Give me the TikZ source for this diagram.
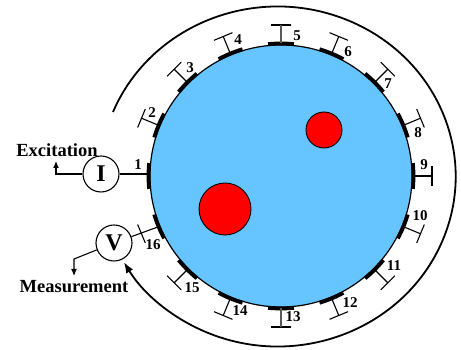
\documentclass[tikz,border=0pt]{standalone}
\usepackage{fontspec}
\setmainfont{Liberation Serif}
\usetikzlibrary{arrows.meta,calc}
\definecolor{phantom}{HTML}{66C5FF}
\tikzset{
  meter/.style={circle,draw,line width=1.1pt,fill=white,minimum size=36pt,inner sep=0pt,font=\bfseries\fontsize{24}{24}\selectfont},
  inclusion/.style={circle,draw=black,line width=0.9pt,fill=red,inner sep=0pt},
  pad/.style={line width=3.8pt},
  wire/.style={line width=1.1pt},
  num/.style={inner sep=0pt,font=\bfseries\fontsize{15}{15}\selectfont},
  caption/.style={inner sep=0pt,font=\bfseries\fontsize{18.5}{19}\selectfont},
  tip/.style={-{Latex[length=7pt,width=6pt]}},
}
\begin{document}
\begin{tikzpicture}[x=1pt,y=-1pt,yshift=350pt]
\useasboundingbox (0,0) rectangle (461,350);
\coordinate (c) at (281,176);
\node[circle,draw=black,line width=1.2pt,fill=phantom,minimum size=262pt,inner sep=0pt] (body) at (c) {};
\node[inclusion,minimum size=36pt] (small) at (324,130) {};
\node[inclusion,minimum size=52pt] (big) at (225,209) {};
% outer arc
\coordinate (arcstart) at (113,112);
\draw[line width=1.8pt,-{Latex[length=11pt,width=8pt]}] (arcstart) arc[start angle=202.3,end angle=509.8,x radius=178,y radius=170];
% electrodes
\foreach \k in {1,...,16}{
  \pgfmathsetmacro{\ang}{180+(\k-1)*22.5}
  \pgfmathsetmacro{\sa}{\ang-5.6}
  \pgfmathsetmacro{\ea}{\ang+5.6}
  \coordinate (e\k) at ($(c)+(\ang:132.5)$);
  \coordinate (w\k) at ($(c)+(\ang:151)$);
  \coordinate (ta\k) at ($(w\k)+(\ang+90:10)$);
  \coordinate (tb\k) at ($(w\k)+(\ang-90:10)$);
  \draw[pad] ($(c)+(\sa:132.5)$) arc[start angle=\sa,end angle=\ea,radius=132.5];
}
\foreach \k in {2,3,4,6,7,8,9,10,11,12,14,15,16}{
  \draw[wire] (ta\k) -- (tb\k);
}
\foreach \k in {2,3,4,6,7,8,9,10,11,12,14,15}{
  \draw[wire] (e\k) -- (w\k);
}
\foreach \k in {5,13}{
  \draw[wire] (ta\k) -- (tb\k);
  \draw[line width=1.5pt,black!65] (e\k) -- (w\k);
}
% labels
\foreach \k/\x/\y in {1/138/165,2/152/113,3/190/68,4/238/40,5/297/36,6/348/52,7/388/84,8/418/133,9/424/165,10/420/216,11/394/266,12/350/303,13/293/317,14/240/311,15/192/288,16/153/245}{
  \node[num] (n\k) at (\x,\y) {\k};
}
% meters
\node[meter] (I) at (101,174) {I};
\node[meter] (V) at (114,243) {V};
\coordinate (iup) at (56,174);
\coordinate (itip) at (56,161);
\coordinate (vdn) at (74,259);
\coordinate (vtip) at (74,276);
\draw[wire] (I) -- ($(e1)+(0,-2)$);
\draw[wire,tip] (I) -- (iup) -- (itip);
\draw[wire] (V) -- (e16);
\draw[wire,tip] (V) -- (vdn) -- (vtip);
\node[caption] (exc) at (57,150) {Excitation};
\node[caption] (mea) at (74,287) {Measurement};
\end{tikzpicture}
\end{document}
